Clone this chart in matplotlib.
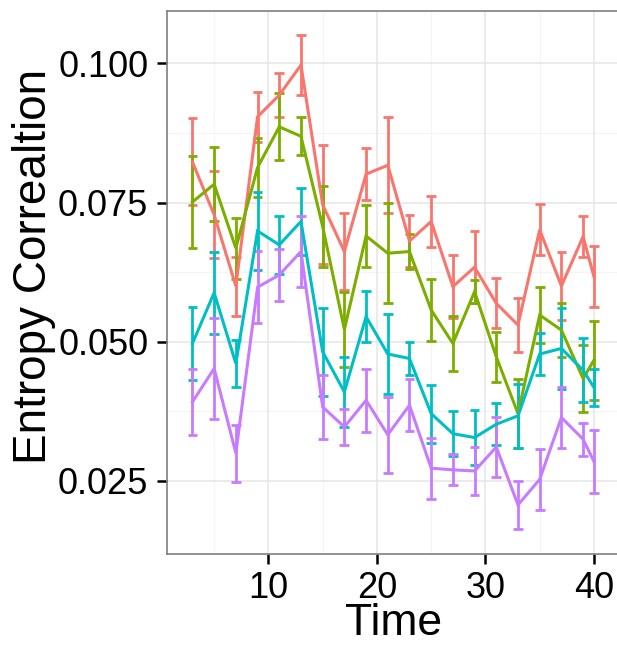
import matplotlib
matplotlib.use("Agg")
import matplotlib.pyplot as plt
import numpy as np

plt.rcParams['font.family'] = ['Liberation Sans', 'DejaVu Sans']

time = [3, 5, 7, 9, 11, 13, 15, 17, 19, 21, 23, 25, 27, 29, 31, 33, 35, 37, 39, 40]

red_mean = [0.0823, 0.0728, 0.0600, 0.0904, 0.0943, 0.0997, 0.0746, 0.0662, 0.0801, 0.0817,
            0.0681, 0.0716, 0.0599, 0.0634, 0.0569, 0.0530, 0.0701, 0.0600, 0.0689, 0.0617]
red_se = [0.0078, 0.0078, 0.0053, 0.0045, 0.0039, 0.0053, 0.0107, 0.0069, 0.0047, 0.0086,
          0.0046, 0.0045, 0.0056, 0.0065, 0.0045, 0.0048, 0.0046, 0.0061, 0.0036, 0.0055]

green_mean = [0.0751, 0.0783, 0.0668, 0.0813, 0.0886, 0.0869, 0.0707, 0.0522, 0.0690, 0.0659,
              0.0662, 0.0557, 0.0497, 0.0590, 0.0473, 0.0371, 0.0548, 0.0521, 0.0434, 0.0467]
green_se = [0.0083, 0.0067, 0.0055, 0.0053, 0.0060, 0.0034, 0.0072, 0.0068, 0.0056, 0.0090,
            0.0031, 0.0056, 0.0049, 0.0021, 0.0045, 0.0062, 0.0051, 0.0049, 0.0060, 0.0071]

teal_mean = [0.0497, 0.0588, 0.0461, 0.0699, 0.0674, 0.0716, 0.0482, 0.0410, 0.0545, 0.0478,
             0.0470, 0.0371, 0.0335, 0.0328, 0.0352, 0.0367, 0.0478, 0.0488, 0.0449, 0.0418]
teal_se = [0.0066, 0.0074, 0.0043, 0.0070, 0.0052, 0.0061, 0.0079, 0.0063, 0.0046, 0.0071,
           0.0030, 0.0052, 0.0040, 0.0050, 0.0038, 0.0057, 0.0037, 0.0072, 0.0058, 0.0034]

purple_mean = [0.0392, 0.0452, 0.0300, 0.0598, 0.0620, 0.0662, 0.0383, 0.0347, 0.0395, 0.0333,
               0.0386, 0.0273, 0.0270, 0.0268, 0.0311, 0.0207, 0.0253, 0.0364, 0.0325, 0.0285]
purple_se = [0.0060, 0.0090, 0.0051, 0.0065, 0.0047, 0.0064, 0.0058, 0.0032, 0.0057, 0.0068,
             0.0047, 0.0055, 0.0028, 0.0043, 0.0054, 0.0043, 0.0055, 0.0054, 0.0030, 0.0056]

x_ticks = [10, 20, 30, 40]
x_minor = [5, 15, 25, 35]
y_ticks = [0.025, 0.050, 0.075, 0.100]
y_tick_labels = ["0.025", "0.050", "0.075", "0.100"]
y_minor = [0.0375, 0.0625, 0.0875]

series = [
    (red_mean, red_se, "#F8766D"),
    (green_mean, green_se, "#7CAE00"),
    (teal_mean, teal_se, "#00BFC4"),
    (purple_mean, purple_se, "#C77CFF"),
]

fig = plt.figure(figsize=(6.17, 6.45), dpi=100)
ax = fig.add_axes([167 / 617, 91 / 645, 452.4 / 617, 543.3 / 645])

ax.set_xlim(0.655, 42.345)
ax.set_ylim(0.01189, 0.10945)

# grid
for v in x_minor:
    ax.axvline(v, color="#f4f4f4", lw=0.8, zorder=0)
for v in y_minor:
    ax.axhline(v, color="#f4f4f4", lw=0.8, zorder=0)
for v in x_ticks:
    ax.axvline(v, color="#e6e6e6", lw=1.1, zorder=0)
for v in y_ticks:
    ax.axhline(v, color="#e6e6e6", lw=1.1, zorder=0)

cap_half = 0.45
x = np.array(time, dtype=float)
for mean, se, color in series:
    m = np.array(mean)
    s = np.array(se)
    lo = m - s
    hi = m + s
    ax.vlines(x, lo, hi, color=color, lw=2.0, zorder=2)
    ax.hlines(lo, x - cap_half, x + cap_half, color=color, lw=2.0, zorder=2)
    ax.hlines(hi, x - cap_half, x + cap_half, color=color, lw=2.0, zorder=2)
    ax.plot(x, m, color=color, lw=2.2, zorder=3, solid_joinstyle="miter")

ax.set_xticks(x_ticks)
ax.set_xticklabels([str(t) for t in x_ticks])
ax.set_yticks(y_ticks)
ax.set_yticklabels(y_tick_labels)
ax.tick_params(axis="both", which="major", length=7.5, width=1.8, color="black",
               labelsize=26, labelcolor="black")
ax.tick_params(axis="y", pad=6)
ax.tick_params(axis="x", pad=5)

for sp in ax.spines.values():
    sp.set_color("#7f7f7f")
    sp.set_linewidth(1.2)

# x title centred under the panel, resting on the bottom edge of the figure
ax.set_xlabel("Time", fontsize=32)
ax.xaxis.label.set_verticalalignment("bottom")
panel_centre = (167 + 452.4 / 2) / 617
ax.xaxis.set_label_coords(panel_centre, 1.0 / 645, transform=fig.transFigure)

ax.set_ylabel("Entropy Correaltion", fontsize=33)
ax.yaxis.set_label_coords(-0.245, 0.53)

fig.savefig("out.png", dpi=100)
